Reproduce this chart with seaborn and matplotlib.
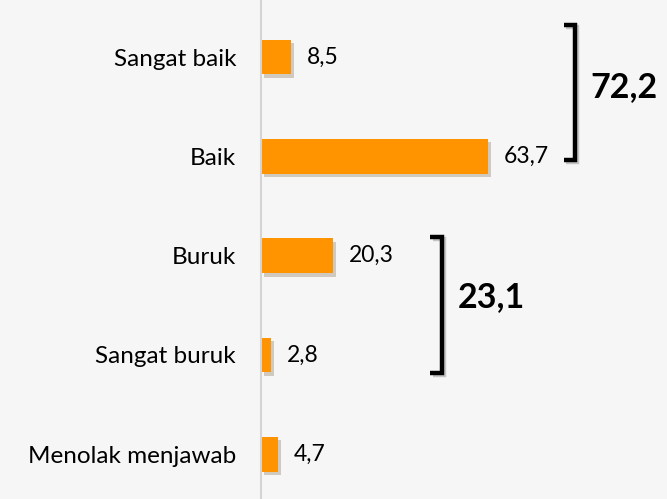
import matplotlib.pyplot as plt
import matplotlib.patheffects as pe
import pandas as pd
import seaborn as sns

categories = ["Sangat baik", "Baik", "Buruk", "Sangat buruk", "Menolak menjawab"]
values = [8.5, 63.7, 20.3, 2.8, 4.7]
value_labels = ["8,5", "63,7", "20,3", "2,8", "4,7"]

group_totals = ["72,2", "23,1"]

BAR_COLOR = "#ff9300"
BG_COLOR = "#f6f6f6"


def draw_bracket(ax, x, y_top, y_bottom, hook=3.2):
    shadow = [pe.SimpleLineShadow(offset=(1.5, -1.5), alpha=0.2), pe.Normal()]
    ax.plot([x - hook, x, x, x - hook], [y_top, y_top, y_bottom, y_bottom],
            color="black", lw=3.2, solid_capstyle="butt", solid_joinstyle="miter",
            path_effects=shadow, clip_on=False)


def main() -> None:
    sns.set_style("white")
    plt.rcParams["font.family"] = ["Lato", "DejaVu Sans"]
    plt.rcParams["text.color"] = "black"

    df = pd.DataFrame({"kategori": categories, "nilai": values})

    fig = plt.figure(figsize=(6.67, 4.99), dpi=100, facecolor=BG_COLOR)
    ax = fig.add_axes([261 / 667, 0, 406 / 667, 1])
    ax.set_facecolor("none")

    sns.barplot(data=df, x="nilai", y="kategori", orient="h", color=BAR_COLOR,
                width=0.35, saturation=1, linewidth=0, ax=ax)
    for patch in ax.patches:
        patch.set_edgecolor("none")
        patch.set_path_effects([pe.SimplePatchShadow(offset=(2, -2.5), alpha=0.22), pe.Normal()])

    ax.set_xlim(0, 406 / 3.56)
    ax.set_ylim(4.45, -0.574)

    for i, (v, lab) in enumerate(zip(values, value_labels)):
        ax.text(v + 4.4, i, lab, va="center", ha="left", fontsize=16.5, color="black")

    ax.set_xlabel("")
    ax.set_ylabel("")
    ax.set_xticks([])
    ax.tick_params(axis="y", length=0, pad=18, labelsize=17.5, labelcolor="black")
    for s in ["top", "right", "bottom"]:
        ax.spines[s].set_visible(False)
    ax.spines["left"].set_color("#d4d4d4")
    ax.spines["left"].set_linewidth(1.5)

    # group brackets with totals
    draw_bracket(ax, 88.2, -0.32, 1.04)
    ax.text(92.4, 0.30, group_totals[0], va="center", ha="left", fontsize=24.5,
            fontweight="bold", color="black")
    draw_bracket(ax, 50.8, 1.81, 3.18)
    ax.text(55.3, 2.42, group_totals[1], va="center", ha="left", fontsize=24.5,
            fontweight="bold", color="black")

    fig.savefig("out.png", dpi=100, facecolor=BG_COLOR)
    plt.close(fig)


if __name__ == "__main__":
    main()
